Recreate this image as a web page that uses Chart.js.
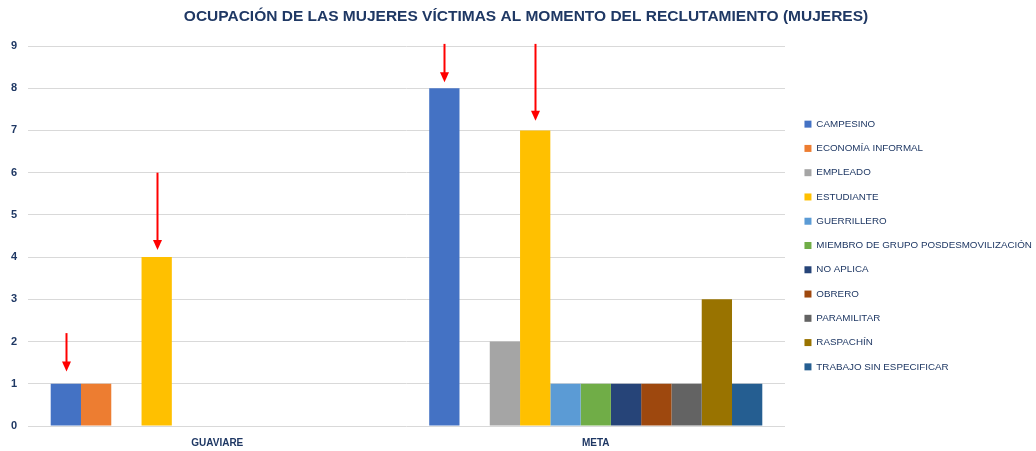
<!DOCTYPE html>
<html>
<head>
<meta charset="utf-8">
<script src="https://cdn.jsdelivr.net/npm/chart.js@4.4.0/dist/chart.umd.min.js"></script>
<style>
  html, body { margin: 0; padding: 0; background: #ffffff; }
  #wrap { width: 1036px; height: 451px; position: relative; }
</style>
</head>
<body>
<div id="wrap"><canvas id="c"></canvas></div>
<script>
const chartTitle = 'OCUPACIÓN DE LAS MUJERES VÍCTIMAS AL MOMENTO DEL RECLUTAMIENTO (MUJERES)';
const categories = ['GUAVIARE', 'META'];
const seriesNames = ['CAMPESINO', 'ECONOMÍA INFORMAL', 'EMPLEADO', 'ESTUDIANTE', 'GUERRILLERO',
  'MIEMBRO DE GRUPO POSDESMOVILIZACIÓN', 'NO APLICA', 'OBRERO', 'PARAMILITAR', 'RASPACHÍN',
  'TRABAJO SIN ESPECIFICAR'];
const guaviareValues = [1, 1, 0, 4, 0, 0, 0, 0, 0, 0, 0];
const metaValues     = [8, 0, 2, 7, 1, 1, 1, 1, 1, 3, 1];
const seriesColors = ['#4472C4', '#ED7D31', '#A5A5A5', '#FFC000', '#5B9BD5', '#70AD47',
  '#264478', '#9E480E', '#636363', '#997300', '#255E91'];
const yTicks = [0, 1, 2, 3, 4, 5, 6, 7, 8, 9];
// red arrow annotations: series index, category index, start value, tip value
const arrowSeries   = [0, 3, 0, 3];
const arrowCategory = [0, 0, 1, 1];
const arrowFrom     = [2.2, 6.0, 9.05, 9.05];
const arrowTo       = [1.29, 4.17, 8.14, 7.23];

const NAVY = '#1F3864';
const FONT = "'Liberation Sans', Arial, sans-serif";
const LEGEND_WIDTH = 251;
const LEGEND_SHIFT_X = 5;
const LEGEND_SHIFT_Y = 20;
const TITLE_CENTER = 526;

const datasets = seriesNames.map((name, i) => ({
  label: name,
  data: [guaviareValues[i], metaValues[i]],
  backgroundColor: seriesColors[i],
  borderWidth: 0,
  categoryPercentage: 0.88,
  barPercentage: 1.0
}));

const layoutPlugin = {
  id: 'layoutTweaks',
  beforeLayout(chart) {
    const lg = chart.legend;
    if (lg && !lg._fixedFit) {
      const orig = lg.fit.bind(lg);
      lg.fit = function () { orig(); this.width = LEGEND_WIDTH; };
      lg._fixedFit = true;
    }
  },
  afterLayout(chart) {
    const tb = chart.titleBlock;
    if (tb) {
      tb.left = 0;
      tb.right = TITLE_CENTER * 2;
      tb.width = TITLE_CENTER * 2;
    }
    const lg = chart.legend;
    if (lg) {
      lg.left += LEGEND_SHIFT_X; lg.right += LEGEND_SHIFT_X;
      lg.top += LEGEND_SHIFT_Y; lg.bottom += LEGEND_SHIFT_Y;
    }
  }
};

const arrowPlugin = {
  id: 'arrows',
  afterDatasetsDraw(chart) {
    const ctx = chart.ctx;
    const y = chart.scales.y;
    ctx.save();
    ctx.strokeStyle = '#FF0000';
    ctx.fillStyle = '#FF0000';
    ctx.lineWidth = 2;
    for (let i = 0; i < arrowSeries.length; i++) {
      const bar = chart.getDatasetMeta(arrowSeries[i]).data[arrowCategory[i]];
      const x = Math.round(bar.x) + 0.5;
      const y1 = y.getPixelForValue(arrowFrom[i]);
      const y2 = y.getPixelForValue(arrowTo[i]);
      const head = 10;
      ctx.beginPath();
      ctx.moveTo(x, y1);
      ctx.lineTo(x, y2 - head + 1);
      ctx.stroke();
      ctx.beginPath();
      ctx.moveTo(x - 4.5, y2 - head);
      ctx.lineTo(x + 4.5, y2 - head);
      ctx.lineTo(x, y2);
      ctx.closePath();
      ctx.fill();
    }
    ctx.restore();
  }
};

new Chart(document.getElementById('c'), {
  type: 'bar',
  data: { labels: categories, datasets },
  plugins: [layoutPlugin, arrowPlugin],
  options: {
    responsive: true,
    maintainAspectRatio: false,
    animation: false,
    layout: { padding: { left: 0, right: 0, top: 0, bottom: 0 } },
    plugins: {
      title: {
        display: true,
        text: chartTitle,
        color: NAVY,
        font: { family: FONT, size: 15.5, weight: 'bold' },
        padding: { top: 7.2, bottom: 20.2 }
      },
      legend: {
        position: 'right',
        align: 'center',
        labels: {
          color: NAVY,
          font: { family: FONT, size: 9.8 },
          boxWidth: 7,
          boxHeight: 7,
          padding: 14.47
        }
      },
      tooltip: { enabled: false }
    },
    scales: {
      x: {
        afterFit(axis) { axis.height = 25; },
        grid: { display: false, drawTicks: false },
        border: { display: false },
        ticks: { color: NAVY, font: { family: FONT, size: 10, weight: 'bold' }, padding: 11 }
      },
      y: {
        min: 0,
        max: 9,
        afterFit(axis) { axis.width = 28; },
        afterBuildTicks(axis) { axis.ticks = yTicks.map(v => ({ value: v })); },
        grid: { color: '#D9D9D9', lineWidth: 1, drawTicks: false },
        border: { display: false },
        ticks: { color: NAVY, font: { family: FONT, size: 11, weight: 'bold' }, padding: 11 }
      }
    }
  }
});
</script>
</body>
</html>
